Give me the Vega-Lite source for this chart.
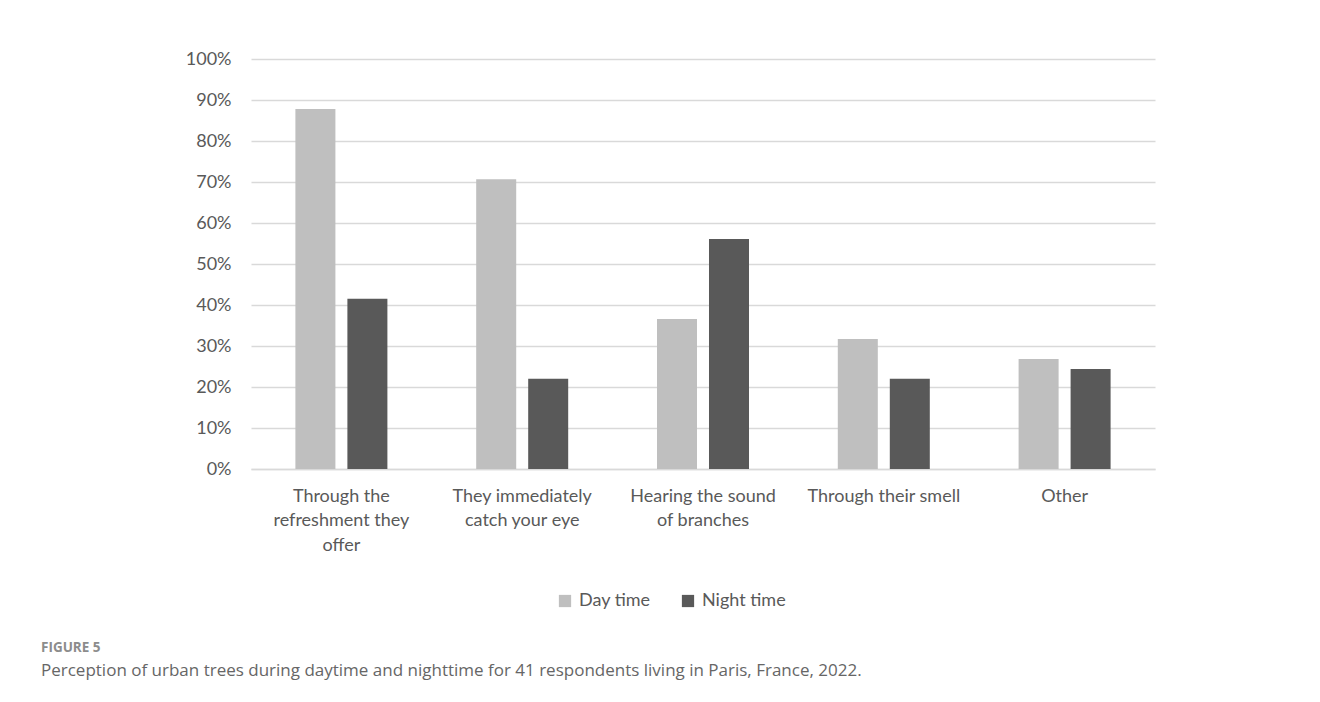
{
  "$schema": "https://vega.github.io/schema/vega-lite/v6.json",
  "autosize": "none",
  "width": 904,
  "height": 410,
  "padding": {"left": 251, "top": 59, "right": 165, "bottom": 233},
  "background": "white",
  "data": {
    "values": [
      {"category": "Through the refreshment they offer", "period": "Day time", "value": 0.878},
      {"category": "Through the refreshment they offer", "period": "Night time", "value": 0.415},
      {"category": "They immediately catch your eye", "period": "Day time", "value": 0.707},
      {"category": "They immediately catch your eye", "period": "Night time", "value": 0.220},
      {"category": "Hearing the sound of branches", "period": "Day time", "value": 0.366},
      {"category": "Hearing the sound of branches", "period": "Night time", "value": 0.561},
      {"category": "Through their smell", "period": "Day time", "value": 0.317},
      {"category": "Through their smell", "period": "Night time", "value": 0.220},
      {"category": "Other", "period": "Day time", "value": 0.268},
      {"category": "Other", "period": "Night time", "value": 0.244}
    ]
  },
  "title": {
    "text": "FIGURE 5",
    "subtitle": "Perception of urban trees during daytime and nighttime for 41 respondents living in Paris, France, 2022.",
    "orient": "bottom",
    "anchor": "start",
    "frame": "group",
    "dx": -210,
    "offset": 31,
    "font": "Open Sans",
    "fontSize": 13.5,
    "fontWeight": "bold",
    "color": "#8c8c8c",
    "subtitleFont": "Open Sans",
    "subtitleFontSize": 17,
    "subtitleColor": "#666666",
    "subtitlePadding": 8
  },
  "mark": {"type": "bar", "width": 40},
  "encoding": {
    "x": {
      "field": "category",
      "type": "nominal",
      "sort": null,
      "scale": {"paddingInner": 0, "paddingOuter": 0},
      "axis": {
        "title": null,
        "labelAngle": 0,
        "ticks": false,
        "domainColor": "#d9d9d9",
        "domainWidth": 1.5,
        "labelFont": "Lato",
        "labelFontSize": 18,
        "labelColor": "#595959",
        "labelPadding": 18,
        "labelLineHeight": 24.5,
        "labelBaseline": "top",
        "labelLimit": 300,
        "labelExpr": "datum.value == 'Through the refreshment they offer' ? ['Through the', 'refreshment they', 'offer'] : datum.value == 'They immediately catch your eye' ? ['They immediately', 'catch your eye'] : datum.value == 'Hearing the sound of branches' ? ['Hearing the sound', 'of branches'] : datum.value"
      }
    },
    "xOffset": {
      "field": "period",
      "type": "nominal",
      "scale": {"paddingInner": 0.2308, "paddingOuter": 0.854}
    },
    "y": {
      "field": "value",
      "type": "quantitative",
      "scale": {"domain": [0, 1]},
      "axis": {
        "title": null,
        "values": [0, 0.1, 0.2, 0.3, 0.4, 0.5, 0.6, 0.7, 0.8, 0.9, 1.0],
        "format": ".0%",
        "domain": false,
        "ticks": false,
        "gridColor": "#d9d9d9",
        "gridWidth": 1.5,
        "labelFont": "Lato",
        "labelFontSize": 18,
        "labelColor": "#595959",
        "labelPadding": 20
      }
    },
    "color": {
      "field": "period",
      "type": "nominal",
      "scale": {"domain": ["Day time", "Night time"], "range": ["#bfbfbf", "#595959"]},
      "legend": {
        "title": null,
        "orient": "none",
        "direction": "horizontal",
        "legendX": 305,
        "legendY": 533,
        "symbolType": "square",
        "symbolSize": 150,
        "symbolStrokeWidth": 0,
        "labelFont": "Lato",
        "labelFontSize": 18,
        "labelColor": "#595959",
        "labelOffset": 5,
        "columnPadding": 28
      }
    }
  },
  "config": {
    "view": {"stroke": null},
    "axis": {"gridOpacity": 1}
  }
}
